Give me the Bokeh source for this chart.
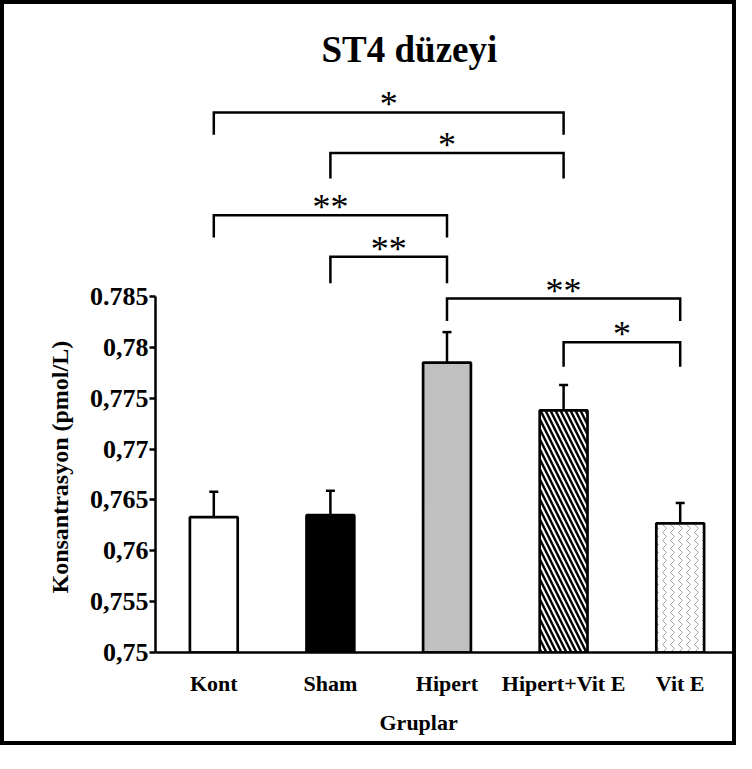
from bokeh.plotting import figure
from bokeh.models import FixedTicker, Range1d, Whisker, TeeHead, ColumnDataSource, Title
from bokeh.core.properties import value
from bokeh.embed import file_html
from bokeh.resources import INLINE

# ---- data -------------------------------------------------------------
groups = ["Kont", "Sham", "Hipert", "Hipert+Vit E", "Vit E"]
means = [0.7633, 0.7635, 0.7785, 0.7738, 0.7627]
errors = [0.0025, 0.0024, 0.0030, 0.0025, 0.0020]

y_ticks = [0.75, 0.755, 0.76, 0.765, 0.77, 0.775, 0.78, 0.785]
y_tick_labels = ["0,75", "0,755", "0,76", "0,765", "0,77", "0,775", "0,78", "0.785"]

# significance brackets
br_left = ["Kont", "Sham", "Kont", "Sham", "Hipert", "Hipert+Vit E"]
br_right = ["Hipert+Vit E", "Hipert+Vit E", "Hipert", "Hipert", "Vit E", "Vit E"]
br_label = ["*", "*", "**", "**", "**", "*"]
br_top = [0.8031, 0.7991, 0.7930, 0.7889, 0.7848, 0.7805]
br_bottom = [0.8009, 0.7966, 0.7908, 0.7863, 0.7826, 0.7781]

# ---- styles -----------------------------------------------------------
fills = ["white", "black", "#c0c0c0", "white", "white"]
hatch_patterns = ["blank", "blank", "blank", "left_diagonal_line", "vertical_wave"]
hatch_colors = ["black", "black", "black", "black", "#9a9a9a"]
hatch_weights = [1, 1, 1, 2.4, 0.9]
hatch_scales = [8, 8, 8, 10, 8]

FONT = "Liberation Serif"

xs = [i + 0.5 for i in range(len(groups))]
pos = dict(zip(groups, xs))

p = figure(width=736, height=745, output_backend="svg", toolbar_location=None,
           x_range=Range1d(0, len(groups)), y_range=Range1d(0.75, 0.80604),
           min_border_left=151, min_border_right=2, min_border_top=78,
           min_border_bottom=97)
p.styles = {"border": "4px solid black"}
p.outline_line_color = None
p.xgrid.visible = False
p.ygrid.visible = False
p.background_fill_color = "white"
p.border_fill_color = "white"

title = Title(text="ST4 düzeyi", align="left", offset=166, standoff=26,
              text_font=FONT, text_font_size="37px", text_font_style="bold",
              text_color="black")
p.add_layout(title, "above")

src = ColumnDataSource(dict(x=xs, top=means, upper=[m + e for m, e in zip(means, errors)],
                            fill=fills, hp=hatch_patterns, hc=hatch_colors,
                            hw=hatch_weights, hs=hatch_scales))

p.vbar(x="x", top="top", bottom=0.75, width=0.41, source=src,
       fill_color="fill", line_color="black", line_width=2.7,
       hatch_pattern="hp", hatch_color="hc", hatch_weight="hw", hatch_scale="hs")

w = Whisker(base="x", lower="top", upper="upper", source=src, dimension="height",
            line_width=2.5, line_color="black",
            upper_head=TeeHead(size=9, line_width=2.5, line_color="black"),
            lower_head=None)
p.add_layout(w)

# brackets
bx, by, sx, sy = [], [], [], []
for l, r, t, b in zip(br_left, br_right, br_top, br_bottom):
    x0, x1 = pos[l], pos[r]
    bx.append([x0, x0, x1, x1])
    by.append([b, t, t, b])
    sx.append((x0 + x1) / 2)
    sy.append(t)
p.multi_line(xs=bx, ys=by, line_color="black", line_width=2.5, line_join="miter")
p.text(x=sx, y=sy, text=br_label, text_align="center", text_baseline="alphabetic",
       y_offset=-8, text_font=value(FONT), text_font_size="36px", text_color="black")

# axes
ya = p.yaxis[0]
ya.ticker = FixedTicker(ticks=y_ticks)
ya.major_label_overrides = {t: l for t, l in zip(y_ticks, y_tick_labels)}
ya.bounds = (0.75, 0.785)
ya.axis_line_width = 2.5
ya.major_tick_line_width = 2.5
ya.major_tick_out = 6
ya.major_tick_in = 0
ya.minor_tick_line_color = None
ya.major_label_standoff = 1
ya.major_label_text_font = FONT
ya.major_label_text_font_style = "bold"
ya.major_label_text_font_size = "26px"
ya.major_label_text_color = "black"

ylab = Title(text="Konsantrasyon (pmol/L)", align="left", offset=59, standoff=28,
             text_font=FONT, text_font_style="bold", text_font_size="24px",
             text_color="black")
p.add_layout(ylab, "left")

xa = p.xaxis[0]
xa.ticker = FixedTicker(ticks=xs)
xa.major_label_overrides = {x: g for x, g in zip(xs, groups)}
xa.axis_line_width = 2.5
xa.major_tick_line_color = None
xa.major_tick_out = 0
xa.major_tick_in = 0
xa.minor_tick_line_color = None
xa.major_label_standoff = 18
xa.major_label_text_font = FONT
xa.major_label_text_font_style = "bold"
xa.major_label_text_font_size = "22px"
xa.major_label_text_color = "black"

xlab = Title(text="Gruplar", align="left", offset=224, standoff=18,
             text_font=FONT, text_font_style="bold", text_font_size="22px",
             text_color="black")
p.add_layout(xlab, "below")

open("out.html", "w").write(file_html(p, INLINE))
